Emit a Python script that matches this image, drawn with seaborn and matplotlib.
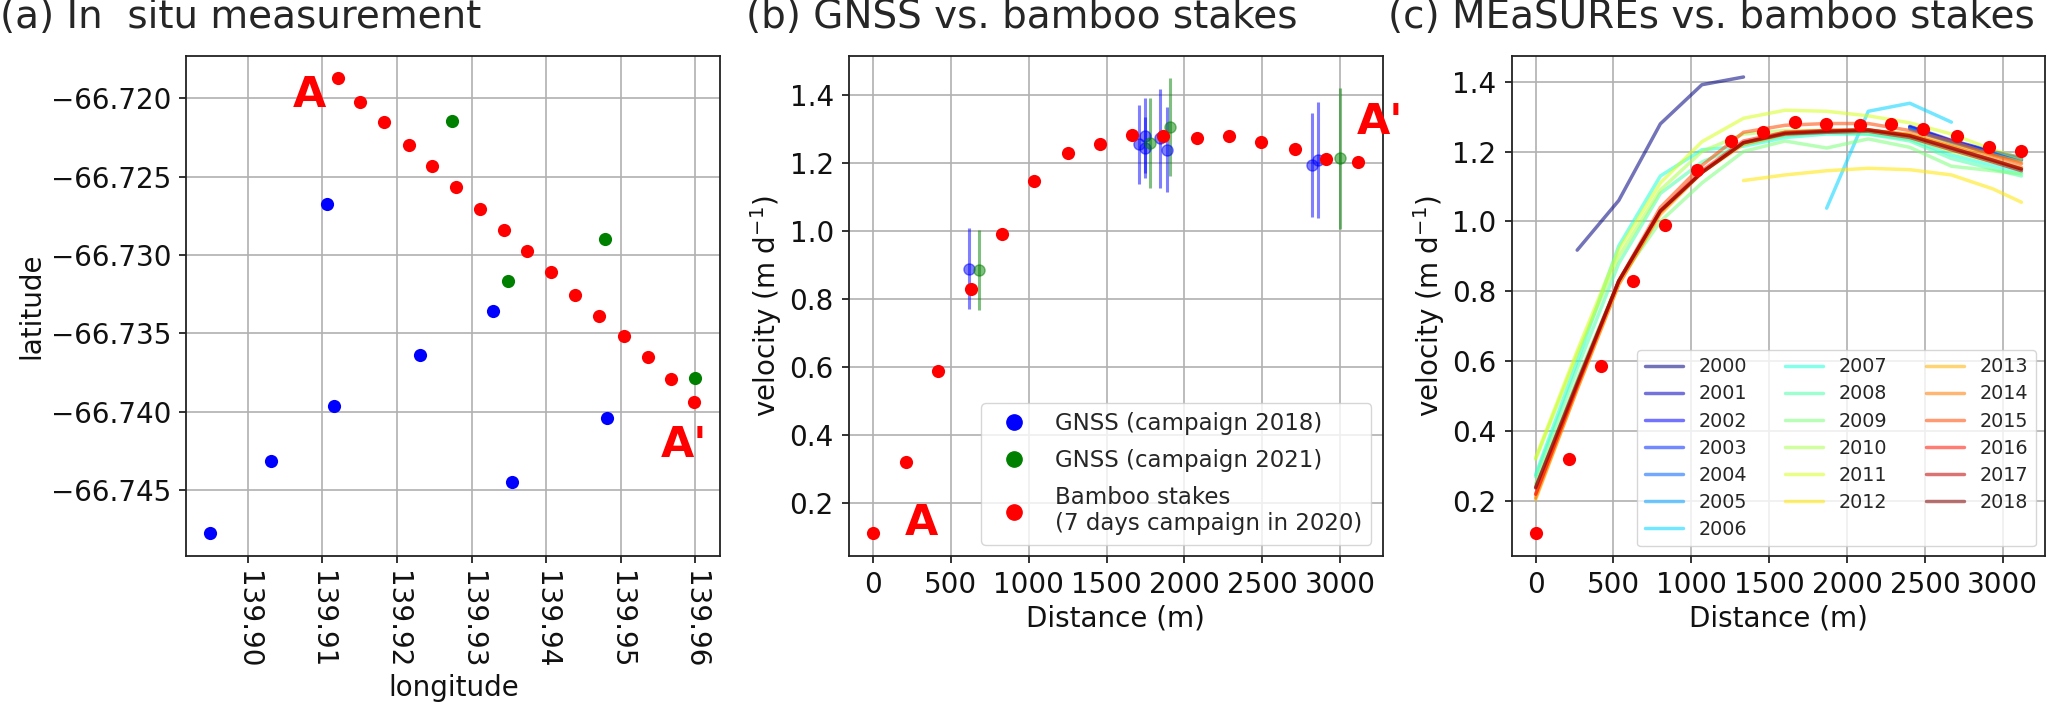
import numpy as np
import pandas as pd
import matplotlib
matplotlib.use("Agg")
import matplotlib.pyplot as plt
from matplotlib.lines import Line2D
import seaborn as sns

# ---------------- data ----------------
# (a) positions of bamboo stakes and GNSS sites
stake_lon = [139.91216, 139.91503, 139.91823, 139.92158, 139.92475, 139.92791,
             139.93117, 139.93428, 139.93748, 139.94064, 139.94389, 139.94710,
             139.95042, 139.95363, 139.95672, 139.95984]
stake_lat = [-66.71873, -66.72023, -66.72152, -66.72296, -66.72434, -66.72566,
             -66.72704, -66.72839, -66.72975, -66.73110, -66.73255, -66.73387,
             -66.73516, -66.73652, -66.73792, -66.73936]
gnss18_lon = [139.91067, 139.93284, 139.92307, 139.91162, 139.90311, 139.89501,
              139.93547, 139.94810]
gnss18_lat = [-66.72675, -66.73357, -66.73639, -66.73961, -66.74314, -66.74775,
              -66.74450, -66.74041]
gnss21_lon = [139.92743, 139.93489, 139.94792, 139.95993]
gnss21_lat = [-66.72147, -66.73165, -66.72896, -66.73782]

# (b) velocities along profile A-A'
stake_dist = [0, 214, 420, 627, 830, 1036, 1252, 1460, 1663, 1862, 2080, 2283,
              2489, 2707, 2910, 3116]
stake_vel = [0.110, 0.320, 0.587, 0.830, 0.991, 1.146, 1.229, 1.257, 1.284,
             1.280, 1.275, 1.280, 1.263, 1.243, 1.213, 1.202]
gnss18_dist = [616, 1707, 1744, 1748, 1840, 1887, 2820, 2856]
gnss18_vel = [0.889, 1.255, 1.281, 1.246, 1.273, 1.240, 1.195, 1.209]
gnss18_err = [0.120, 0.115, 0.110, 0.090, 0.145, 0.125, 0.153, 0.170]
gnss21_dist = [680, 1781, 1909, 2997]
gnss21_vel = [0.885, 1.259, 1.307, 1.214]
gnss21_err = [0.118, 0.133, 0.144, 0.208]

# (c) MEaSUREs annual velocities sampled along the profile
measures_dist = [0, 267, 534, 801, 1068, 1335, 1602, 1869, 2136, 2403, 2670, 2937, 3120]
nan = np.nan
v2000 = [nan, 0.918, 1.060, 1.279, 1.391, 1.413, nan, nan, nan, nan, nan, nan, nan]
v2001 = [nan, nan, nan, nan, nan, nan, nan, nan, nan, 1.272, 1.232, 1.200, 1.182]
v2002 = [nan, nan, nan, nan, nan, nan, nan, nan, nan, 1.270, 1.230, 1.198, 1.180]
v2003 = [nan, nan, nan, nan, nan, nan, nan, nan, nan, 1.268, 1.229, 1.196, 1.178]
v2004 = [nan, nan, nan, nan, nan, nan, nan, nan, nan, 1.266, 1.227, 1.195, 1.176]
v2005 = [nan, nan, nan, nan, nan, nan, nan, nan, nan, 1.264, 1.226, 1.193, 1.175]
v2006 = [nan, nan, nan, nan, nan, nan, nan, 1.038, 1.315, 1.338, 1.284, nan, nan]
v2007 = [0.276, 0.600, 0.930, 1.130, 1.205, 1.215, 1.240, 1.250, 1.250, 1.235, 1.190, 1.160, 1.140]
v2008 = [0.270, 0.580, 0.880, 1.080, 1.170, 1.220, 1.245, 1.255, 1.250, 1.230, 1.180, 1.150, 1.130]
v2009 = [0.250, 0.550, 0.830, 1.000, 1.110, 1.200, 1.230, 1.210, 1.236, 1.212, 1.158, 1.145, 1.136]
v2010 = [0.320, 0.620, 0.900, 1.090, 1.200, 1.250, 1.260, 1.260, 1.260, 1.240, 1.200, 1.170, 1.150]
v2011 = [0.324, 0.630, 0.920, 1.110, 1.228, 1.295, 1.318, 1.315, 1.302, 1.282, 1.250, 1.205, 1.180]
v2012 = [nan, nan, nan, nan, nan, 1.117, 1.133, 1.145, 1.152, 1.148, 1.133, 1.093, 1.055]
v2013 = [0.205, 0.520, 0.820, 1.020, 1.140, 1.220, 1.250, 1.260, 1.260, 1.250, 1.220, 1.190, 1.170]
v2014 = [0.210, 0.520, 0.820, 1.025, 1.140, 1.225, 1.255, 1.260, 1.262, 1.248, 1.215, 1.180, 1.155]
v2015 = [0.220, 0.530, 0.830, 1.040, 1.160, 1.255, 1.275, 1.280, 1.280, 1.260, 1.230, 1.190, 1.165]
v2016 = [0.220, 0.530, 0.830, 1.030, 1.145, 1.230, 1.255, 1.260, 1.262, 1.245, 1.210, 1.175, 1.150]
v2017 = [0.238, 0.535, 0.830, 1.030, 1.140, 1.225, 1.250, 1.255, 1.258, 1.240, 1.205, 1.170, 1.145]
v2018 = [0.240, 0.540, 0.830, 1.030, 1.140, 1.225, 1.252, 1.258, 1.262, 1.245, 1.210, 1.175, 1.150]
years = [str(y) for y in range(2000, 2019)]
year_series = [v2000, v2001, v2002, v2003, v2004, v2005, v2006, v2007, v2008, v2009,
               v2010, v2011, v2012, v2013, v2014, v2015, v2016, v2017, v2018]

# ---------------- style ----------------
sns.set_theme(style="ticks")
plt.rcParams["font.family"] = ["DejaVu Sans"]
plt.rcParams.update({
    "axes.edgecolor": "#222222",
    "axes.linewidth": 1.3,
    "xtick.major.size": 5,
    "ytick.major.size": 5,
    "xtick.major.width": 1.2,
    "ytick.major.width": 1.2,
    "xtick.major.pad": 6,
    "ytick.major.pad": 6,
    "xtick.color": "#111111",
    "ytick.color": "#111111",
    "axes.labelcolor": "#111111",
})

TICK = 20
LABEL = 20
fig, axes = plt.subplots(1, 3, figsize=(20.67, 7.07), dpi=100)
fig.subplots_adjust(left=0.0902, right=0.9895, top=0.921, bottom=0.2136, wspace=0.2416)
ax1, ax2, ax3 = axes

for ax in axes:
    ax.grid(True, color="#b0b0b0", linewidth=1.2)
    ax.set_axisbelow(True)
    ax.tick_params(labelsize=TICK)

# ---------------- (a) ----------------
sns.scatterplot(x=stake_lon, y=stake_lat, color="red", s=90, linewidth=0, ax=ax1, zorder=3)
sns.scatterplot(x=gnss18_lon, y=gnss18_lat, color="blue", s=90, linewidth=0, ax=ax1, zorder=3)
sns.scatterplot(x=gnss21_lon, y=gnss21_lat, color="green", s=90, linewidth=0, ax=ax1, zorder=3)
ax1.set_xlim(139.8918, 139.9633)
ax1.set_ylim(-66.7492, -66.7173)
ax1.set_xticks(np.round(np.arange(139.90, 139.961, 0.01), 2))
ax1.set_xticklabels([f"{t:.2f}" for t in np.arange(139.90, 139.961, 0.01)], rotation=270)
ax1.set_yticks(np.round(np.arange(-66.745, -66.7199, 0.005), 3))
ax1.set_yticklabels([f"{t:.3f}".replace("-", "\u2212") for t in np.arange(-66.745, -66.7199, 0.005)])
ax1.set_xlabel("longitude", fontsize=LABEL)
ax1.set_ylabel("latitude", fontsize=LABEL)
ax1.text(139.9083, -66.7198, "A", color="red", fontsize=31, fontweight="bold",
         ha="center", va="center")
ax1.text(139.9584, -66.7421, "A'", color="red", fontsize=31, fontweight="bold",
         ha="center", va="center")

# ---------------- (b) ----------------
ax2.errorbar(gnss18_dist, gnss18_vel, yerr=gnss18_err, fmt="o", color="blue",
             markersize=8, elinewidth=2.2, alpha=0.5, zorder=3)
ax2.errorbar(gnss21_dist, gnss21_vel, yerr=gnss21_err, fmt="o", color="green",
             markersize=8, elinewidth=2.2, alpha=0.5, zorder=3)
sns.scatterplot(x=stake_dist, y=stake_vel, color="red", s=90, linewidth=0, ax=ax2, zorder=4)
ax2.set_xlim(-154, 3273)
ax2.set_ylim(0.043, 1.516)
ax2.set_xticks(range(0, 3001, 500))
ax2.set_yticks(np.round(np.arange(0.2, 1.41, 0.2), 1))
ax2.set_xlabel("Distance (m)", fontsize=LABEL)
ax2.set_ylabel(r"velocity (m d$^{-1}$)", fontsize=LABEL)
ax2.text(311, 0.141, "A", color="red", fontsize=31, fontweight="bold", ha="center", va="center")
ax2.text(3254, 1.321, "A'", color="red", fontsize=31, fontweight="bold", ha="center", va="center")
handles_b = [
    Line2D([], [], marker="o", linestyle="none", color="blue", markersize=11),
    Line2D([], [], marker="o", linestyle="none", color="green", markersize=11),
    Line2D([], [], marker="o", linestyle="none", color="red", markersize=11),
]
labels_b = ["GNSS (campaign 2018)", "GNSS (campaign 2021)",
            "Bamboo stakes\n(7 days campaign in 2020)"]
ax2.legend(handles_b, labels_b, loc="lower right", fontsize=16.5, labelspacing=0.6)

# ---------------- (c) ----------------
jet = plt.get_cmap("jet")
palette = {y: jet(i / (len(years) - 1)) for i, y in enumerate(years)}
rows = []
for y, vals in zip(years, year_series):
    for d, v in zip(measures_dist, vals):
        if not np.isnan(v):
            rows.append((y, d, v))
df = pd.DataFrame(rows, columns=["year", "distance", "velocity"])
sns.lineplot(data=df, x="distance", y="velocity", hue="year", hue_order=years,
             palette=palette, alpha=0.55, linewidth=2.5, estimator=None, sort=False,
             legend=False, ax=ax3)
sns.scatterplot(x=stake_dist, y=stake_vel, color="red", s=90, linewidth=0, ax=ax3, zorder=4)
ax3.set_xlim(-154, 3273)
ax3.set_ylim(0.0435, 1.4735)
ax3.set_xticks(range(0, 3001, 500))
ax3.set_yticks(np.round(np.arange(0.2, 1.41, 0.2), 1))
ax3.set_xlabel("Distance (m)", fontsize=LABEL)
ax3.set_ylabel(r"velocity (m d$^{-1}$)", fontsize=LABEL)
handles_c = [Line2D([], [], color=palette[y], alpha=0.55, linewidth=2.5) for y in years]
ax3.legend(handles_c, years, ncol=3, loc="lower right", fontsize=13.8, labelspacing=0.42)

# ---------------- titles ----------------
TITLE = 28
fig.text(0.0, 1 - 28 / 707, "(a) In  situ measurement", fontsize=TITLE, va="baseline", ha="left")
fig.text(746 / 2067, 1 - 28 / 707, "(b) GNSS vs. bamboo stakes", fontsize=TITLE, va="baseline", ha="left")
fig.text(1388 / 2067, 1 - 28 / 707, "(c) MEaSUREs vs. bamboo stakes", fontsize=TITLE, va="baseline", ha="left")

fig.savefig("out.png", dpi=100)
